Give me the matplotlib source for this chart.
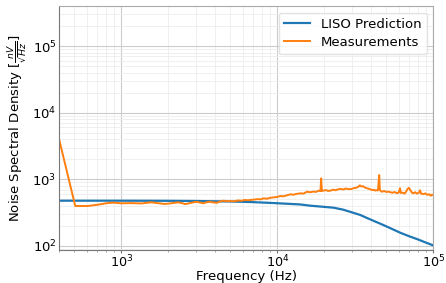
import matplotlib
matplotlib.use("Agg")
import matplotlib.pyplot as plt
from matplotlib.ticker import LogLocator, NullFormatter

# LISO prediction
liso_freq = [400, 1000, 2000, 3000, 5000, 7000, 10000, 12000, 14000, 16300, 19000,
             23000, 26500, 30000, 34000, 37700, 42000, 47000, 53000, 61800, 70000,
             80000, 90000, 100000]
liso_val = [478, 478, 476, 473, 465, 455, 438, 428, 420, 402, 390,
            375, 350, 320, 292, 262, 235, 210, 185, 157, 140,
            125, 112, 102]

meas_freq = [400, 506, 610, 704, 816, 900, 1000, 1150, 1345, 1450, 1552, 1700, 1897,
             2100, 2305, 2450, 2545, 2606, 2800, 3030, 3200, 3350, 3500, 3700, 3900,
             4090, 4300, 4520, 4800, 5000, 5280, 5600, 5900, 6140, 6500, 7020, 7500,
             7800, 8170, 8600, 9000, 9500, 10000, 10440, 10900, 11500, 12160, 12700,
             13300, 14100, 14700, 15500, 16300, 17000, 17700, 18400, 18900, 19100,
             19300, 19700, 20500, 21100, 21900, 22800, 23700, 24600, 25600, 26500,
             27500, 28600, 29800, 30800, 32000, 33000, 33800, 34500, 35500, 36500,
             37500, 38500, 39700, 40800, 41800, 42600, 43500, 44200, 45000, 45400,
             46200, 47000, 48500, 50000, 51500, 53000, 54800, 56500, 58500, 60000,
             61200, 62000, 63800, 65500, 67000, 68500, 69900, 71500, 73000, 74400,
             76500, 78500, 80500, 82300, 83500, 86600, 89000, 91500, 94000, 96500,
             98000, 100000]
meas_val = [3880, 398, 398, 416, 441, 446, 437, 440, 435, 444, 452, 440, 427,
            438, 452, 440, 427, 427, 445, 461, 448, 437, 452, 461, 450,
            445, 465, 478, 470, 472, 468, 482, 476, 490, 486, 495, 505,
            500, 518, 512, 528, 537, 545, 562, 556, 575, 596, 588,
            605, 617, 610, 652, 640, 655, 648, 676, 665, 1035,
            670, 676, 690, 670, 676, 700, 685, 712, 716, 705,
            728, 712, 716, 735, 748, 770, 813, 780, 790, 752,
            735, 722, 705, 690, 695, 676, 690, 680, 1160, 700,
            660, 652, 670, 645, 655, 640, 630, 645, 620, 632,
            736, 625, 630, 610, 655, 720, 745, 680, 630, 617,
            640, 610, 625, 684, 610, 600, 615, 585, 598, 568,
            590, 580]

plt.rcParams['font.family'] = ['DejaVu Sans']
fig = plt.figure(figsize=(4.46, 2.83), dpi=100)
ax = fig.add_axes([0.133, 0.1166, 0.8385, 0.8624])

ax.loglog(liso_freq, liso_val, color='#1f77b4', lw=1.6, label='LISO Prediction')
ax.loglog(meas_freq, meas_val, color='#ff7f0e', lw=1.4, label='Measurements')

ax.set_xlim(400, 1e5)
ax.set_ylim(87, 4e5)

ax.xaxis.set_major_locator(LogLocator(base=10))
ax.xaxis.set_minor_locator(LogLocator(base=10, subs=range(2, 10)))
ax.xaxis.set_minor_formatter(NullFormatter())
ax.yaxis.set_major_locator(LogLocator(base=10))
ax.yaxis.set_minor_locator(LogLocator(base=10, subs=range(2, 10)))
ax.yaxis.set_minor_formatter(NullFormatter())

ax.grid(True, which='major', color='#cccccc', lw=0.8)
ax.grid(True, which='minor', color='#ececec', lw=0.6)
ax.set_axisbelow(True)

for side in ['left', 'bottom']:
    ax.spines[side].set_color('#777777')
for side in ['right', 'top']:
    ax.spines[side].set_color('#aaaaaa')
ax.tick_params(axis='x', which='major', length=2.5, width=0.8, color='#777777', labelsize=9.2, pad=0)
ax.tick_params(axis='x', which='minor', length=1.5, width=0.6, color='#999999')
ax.tick_params(axis='y', which='both', length=0, labelsize=9.5, pad=2)

ax.set_xlabel('Frequency (Hz)', fontsize=9.6, labelpad=0)
ax.set_ylabel(r'Noise Spectral Density [$\frac{nV}{\sqrt{Hz}}$]', fontsize=9.5, labelpad=2.5)

ax.legend(loc='upper right', fontsize=9.5, framealpha=0.8, edgecolor='#dddddd',
          handlelength=2.0, borderpad=0.4, labelspacing=0.4)

fig.savefig('out.png', dpi=100)
